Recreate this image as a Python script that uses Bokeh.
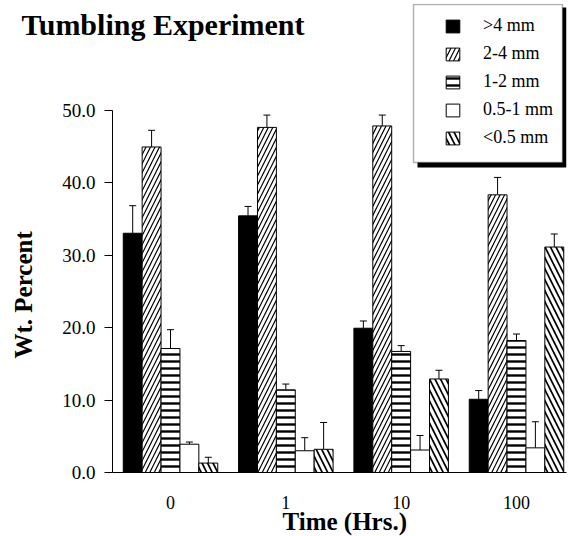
from bokeh.plotting import figure
from bokeh.models import (ColumnDataSource, Range1d, FixedTicker, PrintfTickFormatter, LinearAxis,
                          Whisker, TeeHead, Legend, LegendItem, BoxAnnotation, Title)
from bokeh.embed import file_html
from bokeh.resources import INLINE

# ---------------- data ----------------
times = ["0", "1", "10", "100"]
sizes = [">4 mm", "2-4 mm", "1-2 mm", "0.5-1 mm", "<0.5 mm"]

gt4 = [33.0, 35.4, 19.9, 10.1]
mm2_4 = [44.9, 47.6, 47.8, 38.3]
mm1_2 = [17.1, 11.4, 16.7, 18.2]
mm05_1 = [3.9, 3.0, 3.1, 3.4]
lt05 = [1.3, 3.2, 12.9, 31.1]

gt4_err = [3.8, 1.3, 1.0, 1.2]
mm2_4_err = [2.3, 1.7, 1.5, 2.4]
mm1_2_err = [2.6, 0.8, 0.8, 0.9]
mm05_1_err = [0.3, 1.8, 2.0, 3.6]
lt05_err = [0.8, 3.7, 1.2, 1.8]

y_ticks = [0, 10, 20, 30, 40, 50]

title_text = "Tumbling Experiment"
y_title = "Wt. Percent"
x_title = "Time (Hrs.)"

series = [gt4, mm2_4, mm1_2, mm05_1, lt05]
errors = [gt4_err, mm2_4_err, mm1_2_err, mm05_1_err, lt05_err]

# ---------------- styles ----------------
styles = [
    dict(fill_color="black", hatch_pattern=None),
    dict(fill_color="white", hatch_pattern="/", hatch_scale=9, hatch_weight=1.2),
    dict(fill_color="white", hatch_pattern="-", hatch_scale=7, hatch_weight=2.4),
    dict(fill_color="white", hatch_pattern=None),
    dict(fill_color="white", hatch_pattern="\\", hatch_scale=11, hatch_weight=1.7),
]

W, H = 568, 536
FL, FR, FT, FB = 112, 566, 3, 472
GROUP_PX = 115.33
X0 = (FL - 170) / GROUP_PX
X1 = X0 + (FR - FL) / GROUP_PX
Y1 = (FB - FT) / 7.25
BAR_W = 18.9 / GROUP_PX
SERIF = "Liberation Serif"


def dx(px):
    return X0 + (px - FL) / (FR - FL) * (X1 - X0)


def dy(py):
    return (FB - py) / (FB - FT) * Y1


p = figure(width=W, height=H, output_backend="svg", toolbar_location=None,
           x_range=Range1d(X0, X1), y_range=Range1d(0, Y1),
           min_border_left=FL, min_border_right=W - FR,
           min_border_top=FT, min_border_bottom=H - FB)
p.outline_line_color = None
p.grid.visible = False
p.background_fill_color = "white"
p.border_fill_color = "white"

renderers = []
for k, (vals, errs, st) in enumerate(zip(series, errors, styles)):
    xs = [i + (k - 2) * BAR_W for i in range(len(times))]
    src = ColumnDataSource(dict(x=xs, top=vals, upper=[v + e for v, e in zip(vals, errs)]))
    kw = dict(fill_color=st["fill_color"], line_color="black", line_width=1)
    if st["hatch_pattern"]:
        kw.update(hatch_pattern=st["hatch_pattern"], hatch_scale=st["hatch_scale"],
                  hatch_weight=st["hatch_weight"], hatch_color="black")
    r = p.vbar(x="x", top="top", bottom=0, width=BAR_W, source=src, **kw)
    renderers.append(r)
    p.add_layout(Whisker(source=src, base="x", lower="top", upper="upper", dimension="height",
                         lower_head=None,
                         upper_head=TeeHead(size=7, line_color="black", line_width=1),
                         line_color="black", line_width=1))


def text_axis(ax, size, bold=True):
    ax.axis_line_color = None
    ax.major_tick_line_color = None
    ax.minor_tick_line_color = None
    ax.major_tick_out = 0
    ax.major_tick_in = 0
    ax.major_label_text_font = SERIF
    ax.major_label_text_font_size = size
    ax.major_label_text_font_style = "bold" if bold else "normal"
    ax.major_label_text_color = "black"


# main y axis
yax = p.yaxis[0]
yax.ticker = FixedTicker(ticks=y_ticks)
yax.formatter = PrintfTickFormatter(format="%.1f")
yax.bounds = (0, 50)
yax.major_tick_out = 8
yax.major_tick_in = 0
yax.minor_tick_line_color = None
yax.major_label_standoff = 9
yax.major_label_text_font = SERIF
yax.major_label_text_font_size = "19px"
yax.major_label_text_color = "black"
yax.axis_line_color = "black"
yax.major_tick_line_color = "black"

# main x axis
xax = p.xaxis[0]
xax.ticker = FixedTicker(ticks=list(range(len(times))))
xax.major_label_overrides = {i: t for i, t in enumerate(times)}
xax.major_tick_out = 0
xax.major_tick_in = 0
xax.minor_tick_line_color = None
xax.major_label_standoff = 23
xax.major_label_text_font = SERIF
xax.major_label_text_font_size = "18px"
xax.major_label_text_color = "black"
xax.axis_line_color = "black"

# y-axis title (label-only axis so it sits outside the frame)
y_title_pos = 24.5
ylab = LinearAxis(ticker=FixedTicker(ticks=[y_title_pos]),
                  major_label_overrides={y_title_pos: y_title},
                  major_label_orientation="parallel", major_label_standoff=23)
text_axis(ylab, "25px")
p.add_layout(ylab, "left")

# x-axis title
p.add_layout(Title(text=x_title, align="left", offset=170, vertical_align="bottom", standoff=-47,
                   text_font=SERIF, text_font_size="25px", text_font_style="bold",
                   text_color="black"), "below")

# chart title
title_pos = -0.065
tlab = LinearAxis(ticker=FixedTicker(ticks=[title_pos]),
                  major_label_overrides={title_pos: title_text}, major_label_standoff=-37)
text_axis(tlab, "30px")
p.add_layout(tlab, "above")

# legend box with drop shadow
p.add_layout(BoxAnnotation(left=dx(417), right=dx(566), top=dy(7), bottom=dy(167),
                           fill_color="black", fill_alpha=1, line_color=None))
p.add_layout(BoxAnnotation(left=dx(413), right=dx(562), top=dy(4), bottom=dy(162),
                           fill_color="white", fill_alpha=1, line_color="black", line_width=1.5))

legend = Legend(items=[LegendItem(label=s, renderers=[r]) for s, r in zip(sizes, renderers)],
                location=(444 - FL, FB - 148), padding=0, margin=0,
                border_line_color=None, background_fill_alpha=0,
                glyph_width=17, glyph_height=16, label_height=20, spacing=7,
                label_standoff=22, label_text_font=SERIF, label_text_font_size="18px",
                label_text_color="black")
p.add_layout(legend)

open("out.html", "w").write(file_html(p, INLINE))
